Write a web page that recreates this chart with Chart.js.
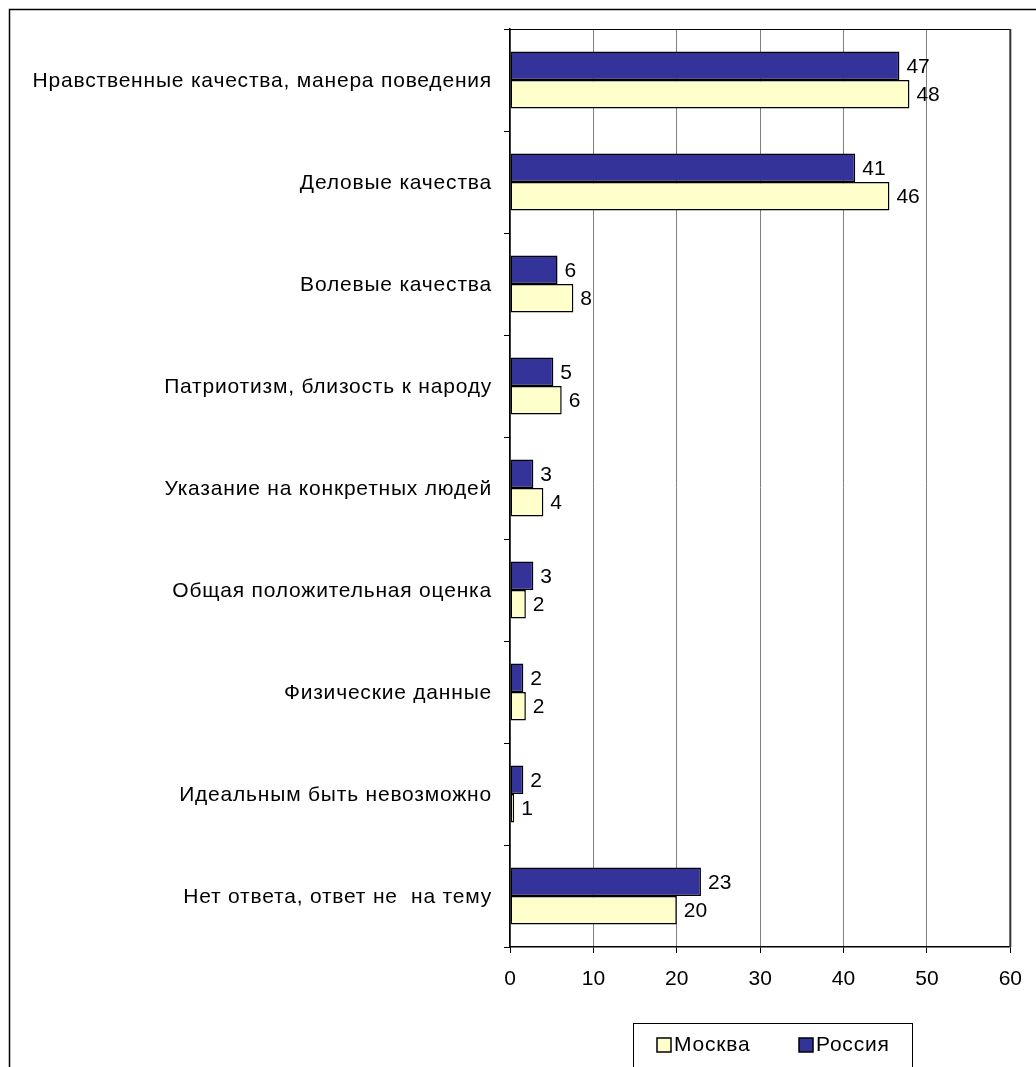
<!DOCTYPE html>
<html>
<head>
<meta charset="utf-8">
<script src="https://cdn.jsdelivr.net/npm/chart.js@4/dist/chart.umd.min.js"></script>
<style>
  body { margin: 0; background: #fff; }
  canvas { display: block; }
</style>
</head>
<body>
<canvas id="qualitiesChart" width="1036" height="1067"></canvas>
<script>
const categories = [
    'Нравственные качества, манера поведения',
    'Деловые качества',
    'Волевые качества',
    'Патриотизм, близость к народу',
    'Указание на конкретных людей',
    'Общая положительная оценка',
    'Физические данные',
    'Идеальным быть невозможно',
    'Нет ответа, ответ не  на тему'
];
const russiaValues = [46.7, 41.4, 5.7, 5.2, 2.8, 2.8, 1.6, 1.6, 22.9];
const moscowValues = [47.9, 45.5, 7.6, 6.2, 4.0, 1.9, 1.9, 0.5, 20.0];
const xTicks = [0, 10, 20, 30, 40, 50, 60];

const FONT = '"Liberation Sans", Arial, sans-serif';

// outer frame + plot border
const framePlugin = {
    id: 'frame',
    beforeDraw(chart) {
        const ctx = chart.ctx;
        ctx.save();
        ctx.fillStyle = '#fff';
        ctx.fillRect(0, 0, chart.width, chart.height);
        ctx.strokeStyle = '#000';
        ctx.lineWidth = 1.5;
        ctx.strokeRect(9.5, 9.5, 2000, 2000);
        ctx.restore();
    },
    afterDraw(chart) {
        const a = chart.chartArea;
        const ctx = chart.ctx;
        ctx.save();
        ctx.strokeStyle = '#000';
        ctx.lineWidth = 1;
        ctx.beginPath();
        ctx.moveTo(a.left - 5, a.top + 0.5);
        ctx.lineTo(a.right, a.top + 0.5);
        ctx.stroke();
        ctx.strokeStyle = '#333';
        ctx.lineWidth = 2;
        ctx.beginPath();
        ctx.moveTo(a.right, a.top);
        ctx.lineTo(a.right, a.bottom);
        ctx.stroke();
        ctx.restore();
    }
};

// category names, drawn with a little letter spacing like the original
const categoryLabels = {
    id: 'categoryLabels',
    afterDraw(chart) {
        const ctx = chart.ctx;
        const y = chart.scales.y;
        ctx.save();
        ctx.font = '21px ' + FONT;
        ctx.letterSpacing = '0.8px';
        ctx.fillStyle = '#000';
        ctx.textAlign = 'right';
        ctx.textBaseline = 'middle';
        chart.data.labels.forEach((lab, i) => {
            ctx.fillText(lab, y.right - 18, y.getPixelForValue(i) + 1);
        });
        ctx.restore();
    }
};

// value labels to the right of the bars
const valueLabels = {
    id: 'valueLabels',
    afterDatasetsDraw(chart) {
        const ctx = chart.ctx;
        ctx.save();
        ctx.font = '21px ' + FONT;
        ctx.fillStyle = '#000';
        ctx.textAlign = 'left';
        ctx.textBaseline = 'middle';
        chart.data.datasets.forEach((ds, i) => {
            chart.getDatasetMeta(i).data.forEach((bar, j) => {
                ctx.fillText(String(Math.round(ds.data[j])), bar.x + 7, bar.y + 1);
            });
        });
        ctx.restore();
    }
};

// boxed legend under the axis (Москва first)
const boxLegend = {
    id: 'boxLegend',
    afterDraw(chart) {
        const ctx = chart.ctx;
        const items = [chart.data.datasets[1], chart.data.datasets[0]];
        const slots = [657, 799];
        ctx.save();
        ctx.strokeStyle = '#000';
        ctx.lineWidth = 1;
        ctx.strokeRect(633.5, 1023.5, 279, 100);
        ctx.font = '21px ' + FONT;
        ctx.letterSpacing = '0.8px';
        ctx.textBaseline = 'middle';
        ctx.textAlign = 'left';
        items.forEach((ds, k) => {
            const x = slots[k];
            ctx.fillStyle = ds.backgroundColor;
            ctx.fillRect(x, 1038, 14, 14);
            ctx.lineWidth = 1.5;
            ctx.strokeStyle = '#000';
            ctx.strokeRect(x, 1038, 14, 14);
            ctx.fillStyle = '#000';
            ctx.fillText(ds.label, x + 17, 1045);
        });
        ctx.restore();
    }
};

new Chart(document.getElementById('qualitiesChart'), {
    type: 'bar',
    data: {
        labels: categories,
        datasets: [{
            label: 'Россия',
            data: russiaValues,
            backgroundColor: '#333399',
            borderColor: '#000',
            borderWidth: 1.5,
            borderSkipped: false,
            barPercentage: 1,
            categoryPercentage: 0.56
        }, {
            label: 'Москва',
            data: moscowValues,
            backgroundColor: '#FFFFCC',
            borderColor: '#000',
            borderWidth: 1.5,
            borderSkipped: false,
            barPercentage: 1,
            categoryPercentage: 0.56
        }]
    },
    options: {
        indexAxis: 'y',
        responsive: false,
        animation: false,
        layout: {
            padding: { top: 29, right: 23, left: 0, bottom: 0 }
        },
        plugins: {
            legend: { display: false },
            tooltip: { enabled: false }
        },
        scales: {
            x: {
                min: xTicks[0],
                max: xTicks[xTicks.length - 1],
                afterBuildTicks(scale) {
                    scale.ticks = xTicks.map(v => ({ value: v }));
                },
                afterFit(scale) {
                    scale.height = 120;
                },
                grid: {
                    color: '#808080',
                    tickColor: '#000',
                    tickLength: 6,
                    lineWidth: 1
                },
                border: { color: '#000', width: 1.5 },
                ticks: {
                    color: '#000',
                    padding: 14,
                    maxRotation: 0,
                    font: { family: FONT, size: 21 }
                }
            },
            y: {
                afterFit(scale) {
                    scale.width = 510;
                },
                grid: {
                    drawOnChartArea: false,
                    tickColor: '#000',
                    tickLength: 6,
                    offset: true
                },
                border: { color: '#000', width: 1.5 },
                ticks: { display: false }
            }
        }
    },
    plugins: [framePlugin, categoryLabels, valueLabels, boxLegend]
});
</script>
</body>
</html>
